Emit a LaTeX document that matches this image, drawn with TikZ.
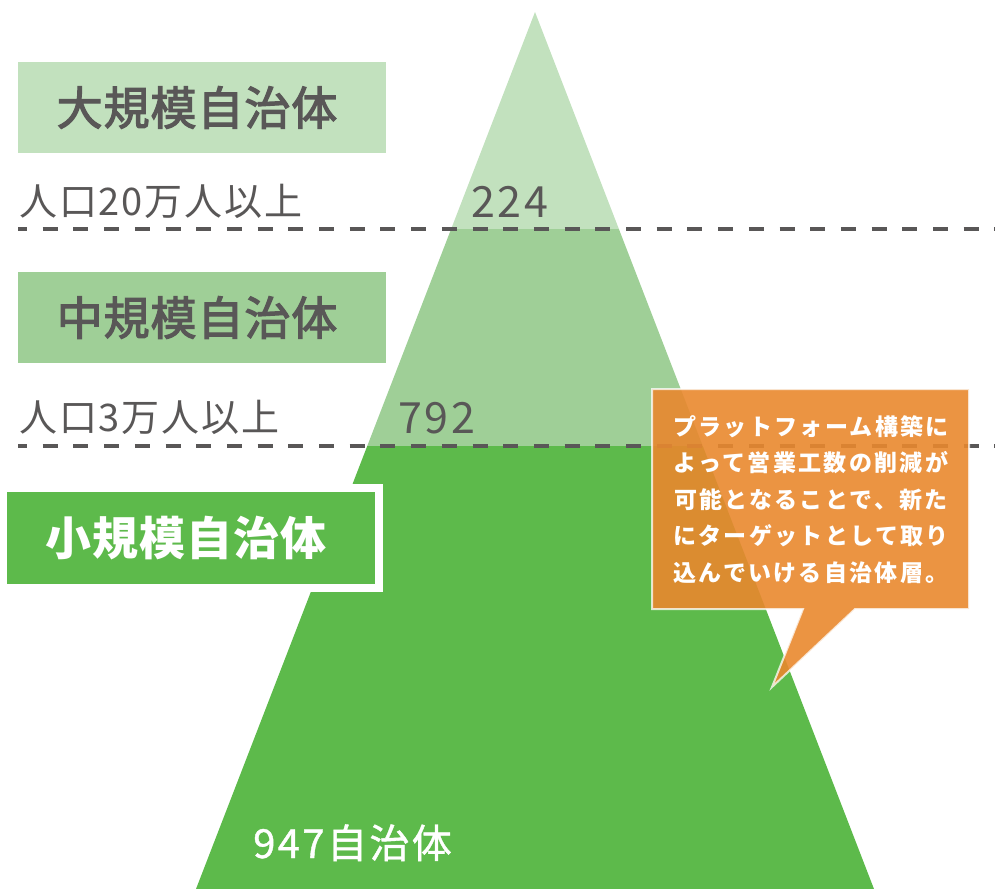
\documentclass[tikz,border=0pt]{standalone}
\usepackage{fontspec}
\setmainfont{Noto Sans CJK JP}
\newfontfamily\jp{Noto Sans CJK JP}
\newfontfamily\jpmed[FakeBold=2.6]{Noto Sans CJK JP}
\newfontfamily\jpsemi[FakeBold=1]{Noto Sans CJK JP}
\definecolor{lightg}{HTML}{C2E1BE}
\definecolor{midg}{HTML}{9FCF97}
\definecolor{darkg}{HTML}{5DBA4B}
\definecolor{txtgray}{HTML}{595757}
\definecolor{callout}{HTML}{E9882E}
\tikzset{
  tierbox/.style={inner sep=0pt, minimum width=368pt, minimum height=91pt, text=txtgray,
    font=\jpmed\fontsize{46}{50}\selectfont\addfontfeatures{LetterSpace=2}},
  poplabel/.style={inner sep=0pt, anchor=base west, text=txtgray,
    font=\jp\fontsize{38}{42}\selectfont\addfontfeatures{LetterSpace=5}},
  numlabel/.style={inner sep=0pt, anchor=base west, text=txtgray,
    font=\jp\fontsize{43}{46}\selectfont\addfontfeatures{LetterSpace=6}},
  dashline/.style={draw=txtgray, line width=3.5pt, dash pattern=on 15pt off 15.7pt, dash phase=6pt},
  notetext/.style={inner sep=0pt, text=white, align=center,
    font=\jp\bfseries\fontsize{23}{36.5}\selectfont\addfontfeatures{LetterSpace=10}}
}
\begin{document}
\begin{tikzpicture}[x=1pt,y=-1pt]
\useasboundingbox (0,0) rectangle (995,889);
% pyramid
\coordinate (apex) at (535,12);
\coordinate (bl) at (196,889);
\coordinate (br) at (874,889);
\begin{scope}
  \clip (apex) -- (bl) -- (br) -- cycle;
  \fill[lightg] (0,0) rectangle (995,229);
  \fill[midg] (0,229) rectangle (995,446);
  \fill[darkg] (0,446) rectangle (995,889);
\end{scope}
% dashed separators
\coordinate (d1a) at (18,229); \coordinate (d1b) at (995,229);
\coordinate (d2a) at (18,446); \coordinate (d2b) at (995,446);
\draw[dashline] (d1a) -- (d1b);
\draw[dashline] (d2a) -- (d2b);
% tier boxes
\node[tierbox, fill=lightg] (big) at (202,107.5) {\hspace*{-10pt}大規模自治体};
\node[tierbox, fill=midg] (mid) at (202,317.5) {\hspace*{-10pt}中規模自治体};
\node[tierbox, fill=darkg, draw=white, line width=8pt, minimum width=376pt, minimum height=100pt, text=white,
  font=\jp\bfseries\fontsize{46}{50}\selectfont\addfontfeatures{LetterSpace=2}] (small) at (191,538) {\hspace*{-10pt}小規模自治体};
% labels
\node[poplabel] (p20) at (19,215) {人口20万人以上};
\node[poplabel] (p3) at (19,431) {人口3万人以上};
\node[numlabel] (n224) at (471,217) {224};
\node[numlabel] (n792) at (398,433) {792};
\node[inner sep=0pt, anchor=base west, text=white, font=\jpsemi\fontsize{40}{44}\selectfont\addfontfeatures{LetterSpace=6}] (n947) at (253,858) {947自治体};
% callout
\coordinate (c1) at (652,389);
\coordinate (c2) at (969,389);
\coordinate (c3) at (969,609);
\coordinate (c4) at (855,609);
\coordinate (tip) at (772,687);
\coordinate (c5) at (803,609);
\coordinate (c6) at (652,609);
\filldraw[fill=callout, fill opacity=0.9, draw=white, draw opacity=0.75, line width=2pt, line join=miter]
  (c1) -- (c2) -- (c3) -- (c4) -- (tip) -- (c5) -- (c6) -- cycle;
\node[notetext] (note) at (811,499.5) {プラットフォーム構築に\\よって営業工数の削減が\\可能となることで、新た\\にターゲットとして取り\\込んでいける自治体層。};
\end{tikzpicture}
\end{document}
